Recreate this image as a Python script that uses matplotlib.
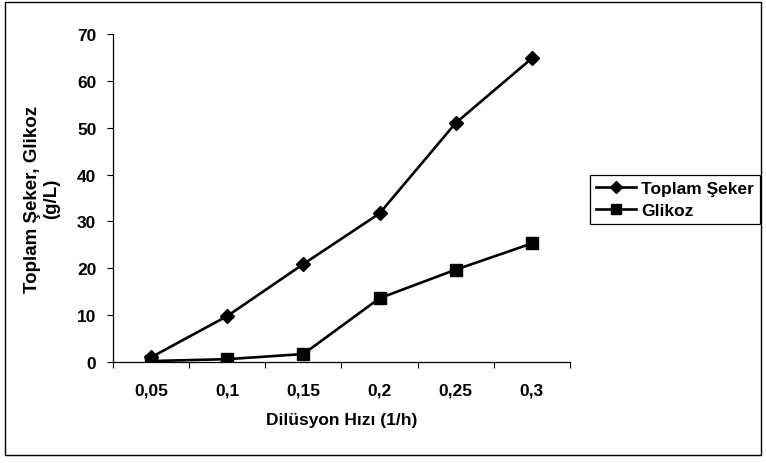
import numpy as np
import matplotlib
matplotlib.use("Agg")
import matplotlib.pyplot as plt
from matplotlib.patches import Rectangle

plt.rcParams['font.family'] = ['Liberation Sans', 'DejaVu Sans']
plt.rcParams['font.weight'] = 'bold'

# dilution rate categories and measured concentrations (g/L)
dilution = ["0,05", "0,1", "0,15", "0,2", "0,25", "0,3"]
toplam_seker = [1.0, 9.8, 20.9, 31.7, 51.0, 64.8]
glikoz = [0.2, 0.6, 1.7, 13.6, 19.7, 25.3]

fig = plt.figure(figsize=(7.66, 4.64), dpi=100)
ax = fig.add_axes([0.1475, 0.2177, 0.5965, 0.7069])

pos = np.arange(len(dilution))
ax.plot(pos, toplam_seker, color="black", lw=1.9, marker="D", ms=7,
        label="Toplam Şeker")
ax.plot(pos, glikoz, color="black", lw=1.9, marker="s", ms=8,
        label="Glikoz")

ax.set_xlim(-0.5, len(dilution) - 0.5)
ax.set_ylim(0, 70)
ax.set_yticks(range(0, 71, 10))
ax.set_xticks(pos)
ax.set_xticklabels(dilution)
ax.set_xticks(np.arange(-0.5, len(dilution)), minor=True)
ax.tick_params(axis="x", which="major", length=0, pad=15, labelsize=12.5)
ax.tick_params(axis="x", which="minor", length=4, direction="out", width=0.8)
ax.tick_params(axis="y", length=4, width=0.8, labelsize=12.5, pad=8)
for lab in ax.get_xticklabels() + ax.get_yticklabels():
    lab.set_fontweight("bold")

ax.spines["top"].set_visible(False)
ax.spines["right"].set_visible(False)
ax.spines["left"].set_linewidth(0.9)
ax.spines["bottom"].set_linewidth(0.9)

ax.set_xlabel("Dilüsyon Hızı (1/h)", fontsize=12.5, fontweight="bold", labelpad=10)
ax.set_ylabel("Toplam Şeker, Glikoz\n(g/L)", fontsize=13.5, fontweight="bold",
              labelpad=12, linespacing=1.15)

leg = fig.legend(loc="upper left", bbox_to_anchor=(0.759, 0.640),
                 fancybox=False, edgecolor="black", framealpha=1,
                 prop={"weight": "bold", "size": 12.5},
                 handlelength=2.3, handletextpad=0.3, borderpad=0.35,
                 labelspacing=0.4, markerscale=0.85)
leg.get_frame().set_linewidth(0.9)

# outer frame around the whole chart
fig.patches.append(Rectangle((0.007, 0.017), 0.986, 0.976, transform=fig.transFigure,
                             fill=False, edgecolor="black", lw=1.0))

fig.savefig("out.png", dpi=100, facecolor="white")
